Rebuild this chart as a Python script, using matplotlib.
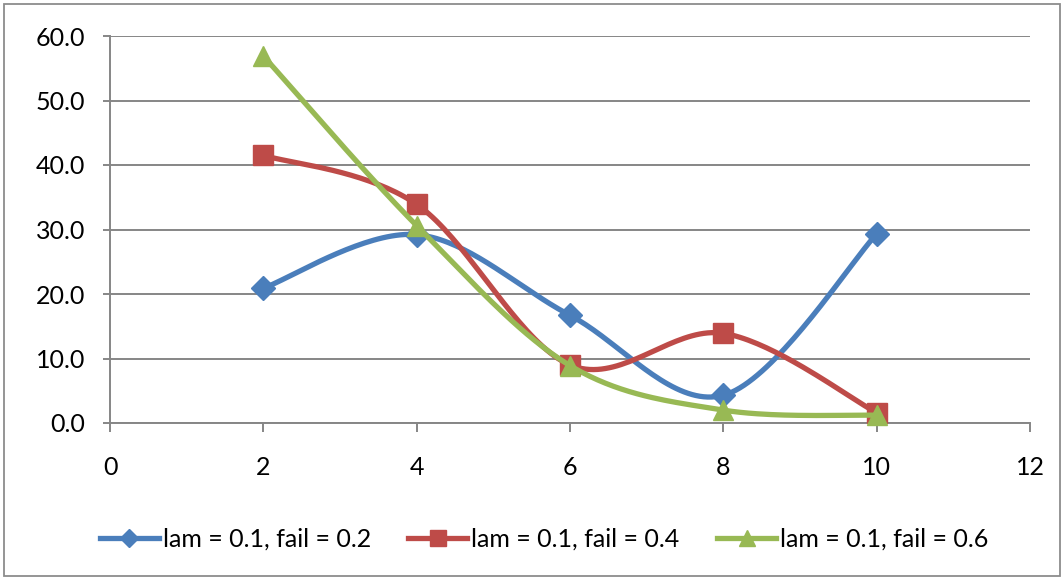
import numpy as np
import matplotlib

matplotlib.use("Agg")

import matplotlib.pyplot as plt  # noqa: E402
from matplotlib.lines import Line2D  # noqa: E402
from matplotlib.patches import Rectangle  # noqa: E402

x_values = [2, 4, 6, 8, 10]
fail_02 = [20.9, 29.2, 16.7, 4.3, 29.3]
fail_04 = [41.5, 33.9, 9.0, 13.9, 1.6]
fail_06 = [56.9, 30.6, 8.9, 2.0, 1.2]
series_labels = [
    "lam = 0.1, fail = 0.2",
    "lam = 0.1, fail = 0.4",
    "lam = 0.1, fail = 0.6",
]
x_ticks = [0, 2, 4, 6, 8, 10, 12]
y_ticks = [0, 10, 20, 30, 40, 50, 60]

GRID = "#868686"
FONT = ["Lato", "DejaVu Sans"]
# colour, marker, size on the chart, size in the legend
styles = [
    ("#4a7ebb", "D", 12, 9),
    ("#be4b48", "s", 14, 11),
    ("#98b954", "^", 14.5, 11.5),
]


def smooth(xs, ys, steps=40):
    """Cubic Bezier smoothing through every point (spreadsheet style)."""
    pts = np.column_stack([xs, ys]).astype(float)
    padded = np.vstack([pts[0], pts, pts[-1]])
    out = []
    for i in range(len(pts) - 1):
        p0 = padded[i + 1]
        p3 = padded[i + 2]
        c1 = p0 + (padded[i + 2] - padded[i]) / 6.0
        c2 = p3 - (padded[i + 3] - padded[i + 1]) / 6.0
        t = np.linspace(0, 1, steps)[:, None]
        seg = ((1 - t) ** 3) * p0 + 3 * ((1 - t) ** 2) * t * c1 \
            + 3 * (1 - t) * t ** 2 * c2 + t ** 3 * p3
        out.append(seg if i == 0 else seg[1:])
    curve = np.vstack(out)
    return curve[:, 0], curve[:, 1]


plt.rcParams["font.family"] = FONT

fig = plt.figure(figsize=(10.64, 5.79), dpi=100, facecolor="white")
ax = fig.add_axes([110 / 1064, 1 - 423 / 579, 920 / 1064, 387 / 579])

fig.patches.append(
    Rectangle(
        (4 / 1064, 3 / 579),
        1056 / 1064,
        572 / 579,
        transform=fig.transFigure,
        fill=False,
        edgecolor="#8c8c8c",
        linewidth=1.3,
    )
)

ax.set_xlim(0, 12)
ax.set_ylim(0, 60)
ax.set_xticks(x_ticks)
ax.set_yticks(y_ticks)
ax.set_yticklabels([f"{v:.1f}" for v in y_ticks])
ax.yaxis.grid(True, color=GRID, linewidth=1.4)
ax.set_axisbelow(True)
for side in ("top", "right"):
    ax.spines[side].set_visible(False)
for side in ("left", "bottom"):
    ax.spines[side].set_color(GRID)
    ax.spines[side].set_linewidth(1.4)
ax.tick_params(axis="both", direction="out", width=1.4,
               color=GRID, labelsize=18, labelcolor="black")
ax.tick_params(axis="y", length=5, pad=13)
ax.tick_params(axis="x", length=6.5, pad=17)

handles = []
for k, (ys, label, (color, marker, size, legend_size)) in enumerate(
    zip([fail_02, fail_04, fail_06], series_labels, styles)
):
    sx, sy = smooth(x_values, ys)
    ax.plot(sx, sy, color=color, linewidth=3.8, solid_capstyle="round",
            zorder=3 + 2 * k, clip_on=False)
    ax.plot(x_values, ys, linestyle="none", marker=marker, markersize=size,
            color=color, zorder=4 + 2 * k, clip_on=False)
    handles.append(Line2D([], [], color=color, linewidth=3.8, marker=marker,
                          markersize=legend_size, label=label))

fig.legend(
    handles=handles,
    loc="center",
    bbox_to_anchor=(544 / 1064, 1 - 539 / 579),
    ncol=3,
    frameon=False,
    handlelength=2.36,
    handletextpad=0.16,
    columnspacing=1.5,
    borderpad=0,
    prop={"family": FONT, "size": 18},
)

fig.savefig("out.png", dpi=100)
